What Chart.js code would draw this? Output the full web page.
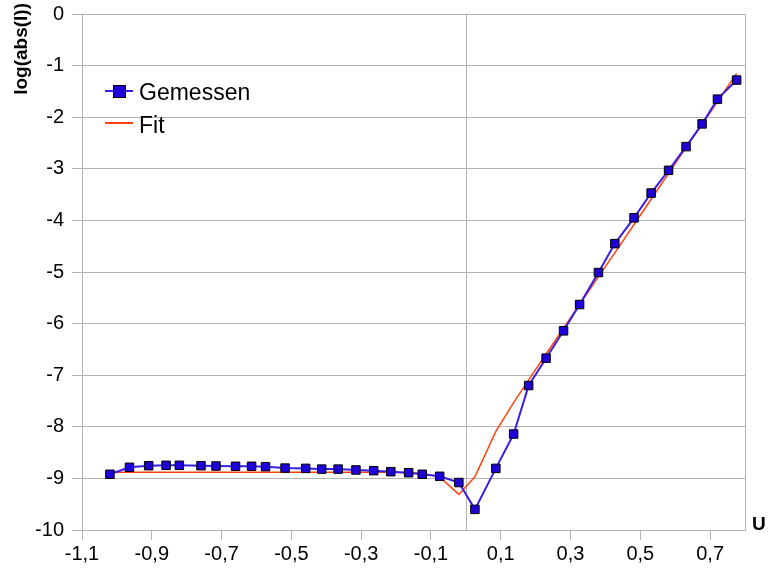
<!DOCTYPE html>
<html>
<head>
<meta charset="utf-8">
<script src="https://cdn.jsdelivr.net/npm/chart.js@4"></script>
<style>
  body { margin: 0; background: #fff; }
  #wrap { position: relative; width: 768px; height: 573px; font-family: "Liberation Sans", Arial, sans-serif; }
  .leg { position: absolute; font-size: 23px; line-height: 23px; color: #000; white-space: nowrap; }
  .legline { position: absolute; height: 2px; }
  .legbox { position: absolute; width: 11px; height: 11px; background: #1f00d6; border: 1px solid #000; }
</style>
</head>
<body>
<div id="wrap">
  <canvas id="chart" width="768" height="573"></canvas>
  <div class="legline" style="left:105px; top:90px; width:28px; background:#3a1ee6;"></div>
  <div class="legbox" style="left:113px; top:85px;"></div>
  <div class="leg" style="left:139px; top:81px;">Gemessen</div>
  <div class="legline" style="left:105px; top:122px; width:28px; height:1.5px; background:#ff420e;"></div>
  <div class="leg" style="left:139px; top:114px;">Fit</div>
</div>
<script>
// measured voltage (U) and log(abs(I))
var uValues = [-1.02, -0.964, -0.909, -0.859, -0.821, -0.759, -0.716, -0.660, -0.614, -0.574,
  -0.518, -0.459, -0.413, -0.366, -0.315, -0.264, -0.215, -0.164, -0.125, -0.075,
  -0.020, 0.026, 0.086, 0.137, 0.180, 0.230, 0.280, 0.326, 0.380, 0.427,
  0.482, 0.531, 0.581, 0.631, 0.677, 0.721, 0.776];
var gemessen = [-8.92, -8.785, -8.754, -8.746, -8.746, -8.754, -8.76, -8.765, -8.765, -8.773,
  -8.80, -8.806, -8.82, -8.82, -8.837, -8.85, -8.87, -8.89, -8.92, -8.96,
  -9.08, -9.60, -8.806, -8.14, -7.20, -6.67, -6.14, -5.63, -5.01, -4.45,
  -3.95, -3.47, -3.03, -2.57, -2.13, -1.65, -1.28];
var fit = [-8.88, -8.88, -8.88, -8.88, -8.88, -8.88, -8.88, -8.88, -8.88, -8.88,
  -8.88, -8.88, -8.88, -8.88, -8.88, -8.88, -8.883, -8.89, -8.905, -8.97,
  -9.31, -8.97, -8.09, -7.53, -7.09, -6.59, -6.09, -5.63, -5.09, -4.63,
  -4.08, -3.59, -3.09, -2.59, -2.14, -1.70, -1.15];

var xTicks = [-1.1, -0.9, -0.7, -0.5, -0.3, -0.1, 0.1, 0.3, 0.5, 0.7];
var xTickLabels = ['-1,1', '-0,9', '-0,7', '-0,5', '-0,3', '-0,1', '0,1', '0,3', '0,5', '0,7'];

function pts(ys) {
  return uValues.map(function (u, i) { return { x: u, y: ys[i] }; });
}

var gridColor = '#b3b3b3';
var tickFont = { family: 'Liberation Sans', size: 20 };

// frame on the right + vertical line at U = 0 + axis titles
var extras = {
  id: 'extras',
  beforeDatasetsDraw: function (chart) {
    var ctx = chart.ctx, a = chart.chartArea;
    var x0 = Math.round(chart.scales.x.getPixelForValue(0)) + 0.5;
    ctx.save();
    ctx.strokeStyle = gridColor;
    ctx.lineWidth = 1;
    ctx.beginPath();
    ctx.moveTo(x0, a.top);
    ctx.lineTo(x0, a.bottom);
    ctx.moveTo(Math.round(a.right) + 0.5, a.top);
    ctx.lineTo(Math.round(a.right) + 0.5, a.bottom);
    ctx.stroke();
    ctx.restore();
  },
  afterDraw: function (chart) {
    var ctx = chart.ctx;
    ctx.save();
    ctx.fillStyle = '#000';
    ctx.font = 'bold 19px "Liberation Sans"';
    ctx.textBaseline = 'middle';
    ctx.textAlign = 'left';
    ctx.fillText('U', 752, 525);
    ctx.translate(22, 3);
    ctx.rotate(-Math.PI / 2);
    ctx.textAlign = 'right';
    ctx.fillText('log(abs(I))', 0, 0);
    ctx.restore();
  }
};

new Chart(document.getElementById('chart'), {
  type: 'scatter',
  data: {
    datasets: [{
      label: 'Gemessen',
      data: pts(gemessen),
      showLine: true,
      borderColor: '#3a1ee6',
      borderWidth: 2,
      pointStyle: 'rect',
      pointRadius: 6,
      pointBackgroundColor: '#1f00d6',
      pointBorderColor: '#000',
      pointBorderWidth: 1
    }, {
      label: 'Fit',
      data: pts(fit),
      showLine: true,
      borderColor: '#ff420e',
      borderWidth: 1.5,
      pointRadius: 0
    }]
  },
  options: {
    responsive: false,
    animation: false,
    layout: { padding: { top: 14, right: 23, left: 0, bottom: 0 } },
    plugins: { legend: { display: false }, tooltip: { enabled: false } },
    scales: {
      x: {
        type: 'linear',
        min: -1.1,
        max: 0.8,
        afterBuildTicks: function (scale) {
          scale.ticks = xTicks.map(function (v) { return { value: v }; });
        },
        afterFit: function (scale) {
          scale.height = 43;
          scale.paddingLeft = 0;
          scale.paddingRight = 0;
        },
        ticks: {
          color: '#000',
          font: tickFont,
          padding: 2,
          maxRotation: 0,
          callback: function (v, i) { return xTickLabels[i]; }
        },
        grid: { drawOnChartArea: false, drawTicks: true, tickLength: 10, color: gridColor },
        border: { display: true, color: gridColor }
      },
      y: {
        min: -10,
        max: 0,
        afterFit: function (scale) {
          scale.width = 82;
          scale.paddingTop = 0;
          scale.paddingBottom = 0;
        },
        ticks: { stepSize: 1, color: '#000', font: tickFont, padding: 8 },
        grid: { color: gridColor, tickLength: 10 },
        border: { display: true, color: gridColor }
      }
    }
  },
  plugins: [extras]
});
</script>
</body>
</html>
